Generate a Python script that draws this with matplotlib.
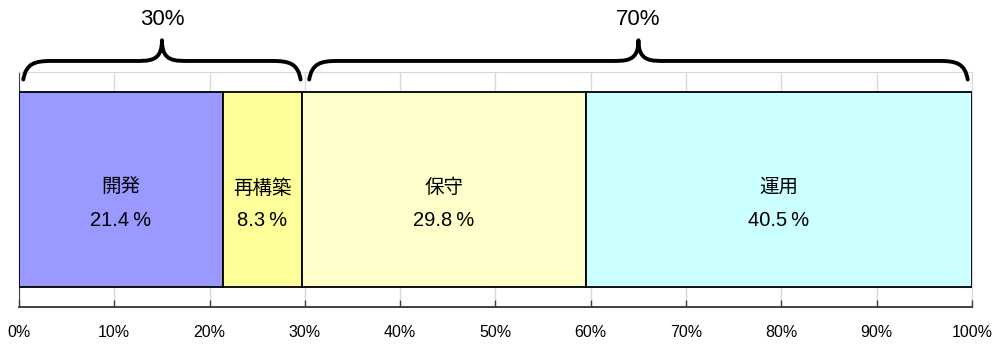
import matplotlib
matplotlib.use("Agg")
import matplotlib.pyplot as plt
from matplotlib.path import Path
from matplotlib.patches import PathPatch
import matplotlib.transforms as mtransforms
import numpy as np

# ---- data ----
categories = ["開発", "再構築", "保守", "運用"]
values = [21.4, 8.3, 29.8, 40.5]
colors = ["#9999FF", "#FFFF99", "#FFFFCC", "#CCFFFF"]
group_values = [30, 70]
group_labels = ["30%", "70%"]
tick_values = [0, 10, 20, 30, 40, 50, 60, 70, 80, 90, 100]
tick_labels = [f"{t}%" for t in tick_values]

fam = ["Liberation Sans", "Noto Sans CJK JP", "DejaVu Sans"]
plt.rcParams["font.family"] = fam

fig = plt.figure(figsize=(9.95, 3.45), dpi=100)
ax = fig.add_axes([19 / 995, 1 - 307 / 345, (972 - 19) / 995, (307 - 72) / 345])
ax.set_xlim(0, 100)
ax.set_ylim(0, 1)

# gridlines
for t in tick_values:
    ax.axvline(t, color="#D9D9D9", lw=1.0, zorder=0)

# bars
left = 0.0
for cat, v, c in zip(categories, values, colors):
    ax.barh(0.5, v, left=left, height=0.83, color=c, edgecolor="black",
            linewidth=1.3, zorder=2)
    cx = left + v / 2
    ax.text(cx, 0.505, cat, ha="center", va="center", fontsize=14,
            family=fam, zorder=3)
    ax.text(cx, 0.37, f"{v:.1f}\u2009%", ha="center", va="center", fontsize=14.5,
            family=fam, zorder=3)
    left += v

# braces
trans = mtransforms.blended_transform_factory(ax.transData, ax.transAxes)
y_end, y_flat, y_tip = 0.968, 1.047, 1.135
inset = 0.45
w = 3.0
start = 0.0
for gv, gl in zip(group_values, group_labels):
    x0 = start + inset
    x1 = start + gv - inset
    xm = start + gv / 2
    verts = [
        (x0, y_end),
        (x0 + w * 0.1, y_flat - 0.01), (x0 + w * 0.4, y_flat), (x0 + w, y_flat),
        (xm - w, y_flat),
        (xm - w * 0.45, y_flat), (xm, y_flat - 0.005), (xm, y_tip),
        (xm, y_flat - 0.005), (xm + w * 0.45, y_flat), (xm + w, y_flat),
        (x1 - w, y_flat),
        (x1 - w * 0.4, y_flat), (x1 - w * 0.1, y_flat - 0.01), (x1, y_end),
    ]
    codes = [Path.MOVETO,
             Path.CURVE4, Path.CURVE4, Path.CURVE4,
             Path.LINETO,
             Path.CURVE4, Path.CURVE4, Path.CURVE4,
             Path.CURVE4, Path.CURVE4, Path.CURVE4,
             Path.LINETO,
             Path.CURVE4, Path.CURVE4, Path.CURVE4]
    patch = PathPatch(Path(verts, codes), transform=trans, fill=False,
                      edgecolor="black", lw=2.8, capstyle="round",
                      joinstyle="round", clip_on=False, zorder=4)
    ax.add_patch(patch)
    ax.text(xm, 1.222, gl, transform=trans, ha="center", va="center",
            fontsize=16, family=fam, clip_on=False)
    start += gv

# axes styling
ax.set_yticks([])
ax.set_xticks(tick_values)
ax.set_xticklabels(tick_labels, fontsize=11.5)
ax.tick_params(axis="x", direction="in", length=5, width=1.0,
               color="#404040", pad=13)
ax.spines["top"].set_color("#D9D9D9")
ax.spines["right"].set_color("#D9D9D9")
ax.spines["left"].set_color("#404040")
ax.spines["bottom"].set_color("#202020")
ax.spines["bottom"].set_linewidth(1.2)
for s in ax.spines.values():
    s.set_zorder(1)

fig.savefig("out.png", dpi=100)
